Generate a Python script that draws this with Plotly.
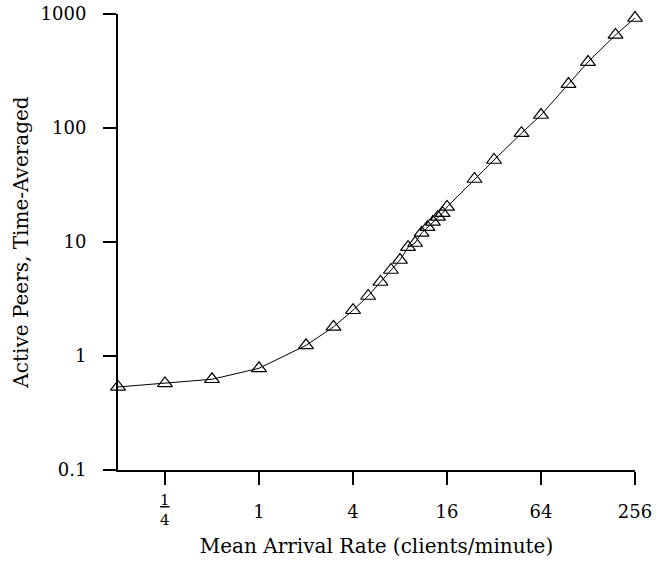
import math
import plotly.graph_objects as go

# Data
arrival_rate = [0.125, 0.25, 0.5, 1, 2, 3, 4, 5, 6, 7, 8, 9, 10, 11, 12, 13, 14, 15, 16,
                24, 32, 48, 64, 96, 128, 192, 256]
active_peers = [0.535, 0.575, 0.625, 0.78, 1.24, 1.80, 2.52, 3.36, 4.46, 5.68, 6.95, 9.0,
                9.8, 12.0, 13.5, 15.0, 16.6, 17.9, 20.3,
                35.7, 52.4, 90, 130, 243, 379, 655, 922]

x_tickvals = [0.25, 1, 4, 16, 64, 256]
x_ticktext = ["", "1", "4", "16", "64", "256"]
fraction_text = "<span style='text-decoration:underline'>1</span><br>4"
y_tickvals = [0.1, 1, 10, 100, 1000]
y_ticktext = ["0.1", "1", "10", "100", "1000"]

FONT = "DejaVu Serif"

fig = go.Figure()
fig.add_trace(go.Scatter(
    x=arrival_rate, y=active_peers, mode="lines+markers",
    line=dict(color="black", width=1),
    marker=dict(symbol="triangle-up-open", size=13, color="black", line=dict(width=1.2)),
    showlegend=False, cliponaxis=False,
))

fig.add_annotation(
    x=math.log10(x_tickvals[0]), xref="x", y=-0.088, yref="paper",
    text=fraction_text, showarrow=False, yanchor="middle", xanchor="center",
    font=dict(family=FONT, size=15, color="black"),
)

fig.update_layout(
    width=658, height=563,
    margin=dict(l=118, r=23, t=14, b=93),
    paper_bgcolor="white", plot_bgcolor="white",
    font=dict(family=FONT, size=18, color="black"),
)
fig.update_xaxes(
    type="log", range=[math.log10(0.125), math.log10(256)],
    tickvals=x_tickvals, ticktext=x_ticktext, automargin=False,
    showline=True, linecolor="black", linewidth=2,
    ticks="outside", ticklen=13, tickwidth=2, tickcolor="black",
    showgrid=False, zeroline=False, ticklabelstandoff=11,
    title=dict(text="Mean Arrival Rate (clients/minute)", standoff=18, font=dict(size=20)),
)
fig.update_yaxes(
    type="log", range=[-1, 3], automargin=False,
    tickvals=y_tickvals, ticktext=y_ticktext,
    showline=True, linecolor="black", linewidth=2,
    ticks="outside", ticklen=13, tickwidth=2, tickcolor="black",
    showgrid=False, zeroline=False, ticklabelstandoff=13,
    title=dict(text="Active Peers, Time-Averaged", standoff=7, font=dict(size=20)),
)

fig.write_html("out.html")
